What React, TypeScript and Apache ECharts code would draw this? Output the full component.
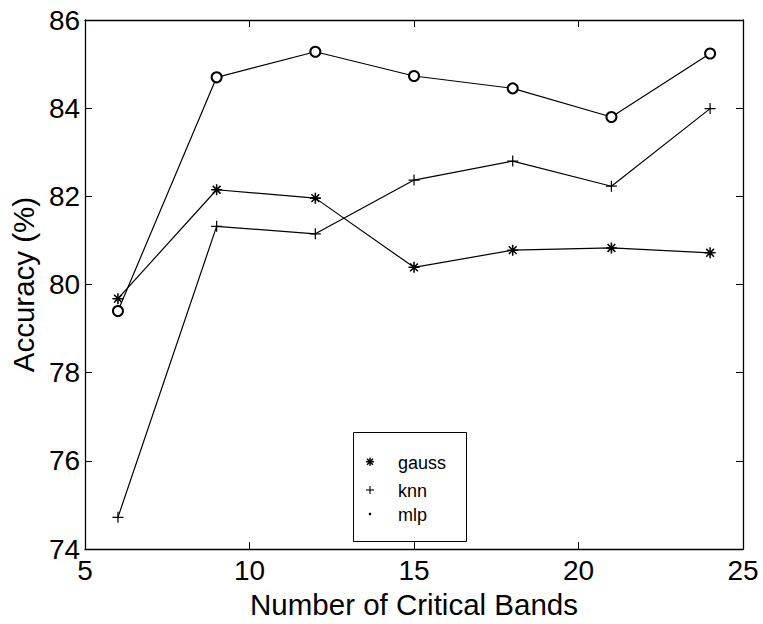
import React, { useEffect, useRef } from "react";
import * as echarts from "echarts";

const bands = [6, 9, 12, 15, 18, 21, 24];
const gauss = [79.68, 82.15, 81.96, 80.39, 80.78, 80.83, 80.72];
const knn = [74.72, 81.32, 81.15, 82.37, 82.8, 82.23, 83.99];
const mlp = [79.4, 84.7, 85.28, 84.73, 84.45, 83.8, 85.24];
const seriesNames = ["gauss", "knn", "mlp"];
const xRange = [5, 25];
const yRange = [74, 86];

const FONT = "'Liberation Sans', Arial, Helvetica, sans-serif";

function barsPath(angles: number[], L: number, w: number): string {
  return (
    "path://" +
    angles
      .map((deg) => {
        const a = (deg * Math.PI) / 180;
        const c = Math.cos(a);
        const s = Math.sin(a);
        const nx = -s;
        const ny = c;
        const pts = [
          [L * c + w * nx, L * s + w * ny],
          [-L * c + w * nx, -L * s + w * ny],
          [-L * c - w * nx, -L * s - w * ny],
          [L * c - w * nx, L * s - w * ny],
        ];
        return (
          "M" +
          pts.map((p) => p[0].toFixed(3) + "," + p[1].toFixed(3)).join("L") +
          "Z"
        );
      })
      .join(" ")
  );
}

const asteriskSymbol = barsPath([0, 45, 90, 135], 5, 0.7);
const plusSymbol = barsPath([0, 90], 5, 0.55);

function toPairs(ys: number[]) {
  return bands.map((x, i) => [x, ys[i]]);
}

function legendGraphic() {
  const bx = 353.5;
  const by = 432.5;
  const sx = 370;
  const rows = [461.7, 490, 514];
  const tx = 398;
  const els: any[] = [
    {
      type: "rect",
      shape: { x: bx, y: by, width: 113, height: 109 },
      style: { fill: "#fff", stroke: "#000", lineWidth: 1 },
    },
  ];
  const h = 4;
  const ay = rows[0];
  [
    [-h, 0, h, 0],
    [0, -h, 0, h],
    [-h * 0.75, -h * 0.75, h * 0.75, h * 0.75],
    [-h * 0.75, h * 0.75, h * 0.75, -h * 0.75],
  ].forEach((l) =>
    els.push({
      type: "line",
      shape: { x1: sx + l[0], y1: ay + l[1], x2: sx + l[2], y2: ay + l[3] },
      style: { stroke: "#000", lineWidth: 1.5 },
    })
  );
  const py = rows[1];
  [
    [-h, 0, h, 0],
    [0, -h, 0, h],
  ].forEach((l) =>
    els.push({
      type: "line",
      shape: { x1: sx + l[0], y1: py + l[1], x2: sx + l[2], y2: py + l[3] },
      style: { stroke: "#000", lineWidth: 1.1 },
    })
  );
  els.push({
    type: "circle",
    shape: { cx: sx, cy: rows[2], r: 1.3 },
    style: { fill: "#000" },
  });
  seriesNames.forEach((n, i) =>
    els.push({
      type: "text",
      x: tx,
      y: rows[i] + 1,
      style: {
        text: n,
        fill: "#000",
        font: `18px ${FONT}`,
        verticalAlign: "middle",
        align: "left",
      },
    })
  );
  return { type: "group", z: 100, children: els };
}

export default function App() {
  const ref = useRef<HTMLDivElement>(null);
  useEffect(() => {
    if (!ref.current) return;
    const chart = echarts.init(ref.current, undefined, { renderer: "svg" });
    const axisCommon = {
      axisLine: { show: true, lineStyle: { color: "#000", width: 1.3 } },
      axisTick: { show: true, inside: true, length: 7, lineStyle: { color: "#000", width: 1 } },
      splitLine: { show: false },
    };
    const lineStyle = { color: "#000", width: 1.2 };
    chart.setOption({
      animation: false,
      backgroundColor: "#fff",
      grid: { left: 79, right: 20, top: 20, bottom: 66 },
      xAxis: [
        {
          type: "value",
          min: xRange[0],
          max: xRange[1],
          interval: 5,
          name: "Number of Critical Bands",
          nameLocation: "middle",
          nameGap: 30,
          nameTextStyle: { color: "#000", fontSize: 29.5, fontFamily: FONT },
          axisLabel: { color: "#000", fontSize: 28, fontFamily: FONT, margin: 7 },
          ...axisCommon,
        },
        {
          type: "value",
          position: "top",
          min: xRange[0],
          max: xRange[1],
          interval: 5,
          axisLabel: { show: false },
          ...axisCommon,
        },
      ],
      yAxis: [
        {
          type: "value",
          min: yRange[0],
          max: yRange[1],
          interval: 2,
          name: "Accuracy (%)",
          nameLocation: "middle",
          nameGap: 40,
          nameTextStyle: { color: "#000", fontSize: 29.5, fontFamily: FONT },
          axisLabel: { color: "#000", fontSize: 28, fontFamily: FONT, margin: 5 },
          ...axisCommon,
        },
        {
          type: "value",
          position: "right",
          min: yRange[0],
          max: yRange[1],
          interval: 2,
          axisLabel: { show: false },
          ...axisCommon,
        },
      ],
      series: [
        {
          name: seriesNames[0],
          type: "line",
          data: toPairs(gauss),
          symbol: asteriskSymbol,
          symbolSize: 11,
          lineStyle,
          itemStyle: { color: "#000", borderWidth: 0 },
        },
        {
          name: seriesNames[1],
          type: "line",
          data: toPairs(knn),
          symbol: plusSymbol,
          symbolSize: 11,
          lineStyle,
          itemStyle: { color: "#000", borderWidth: 0 },
        },
        {
          name: seriesNames[2],
          type: "line",
          data: toPairs(mlp),
          symbol: "emptyCircle",
          symbolSize: 10,
          lineStyle,
          itemStyle: { color: "#000", borderColor: "#000", borderWidth: 0.9 },
        },
      ],
      graphic: [legendGraphic()],
    });
    return () => chart.dispose();
  }, []);
  return (
    <div
      ref={ref}
      style={{ position: "absolute", left: 0, top: 0, width: 763, height: 624 }}
    />
  );
}
